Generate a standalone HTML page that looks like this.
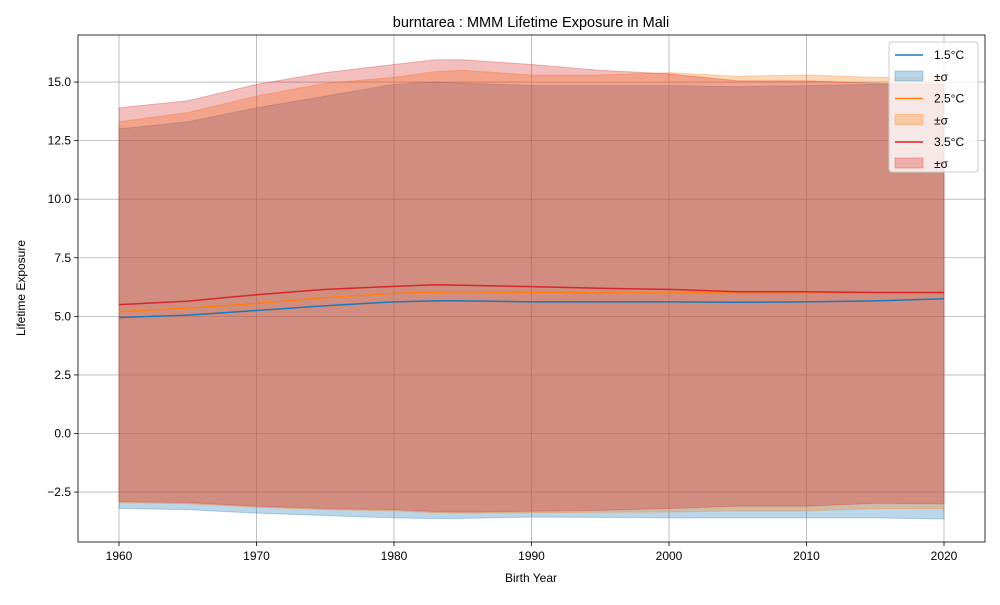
<!DOCTYPE html>
<html><head><meta charset="utf-8"><style>body{margin:0;background:#fff}svg{font-family:"Liberation Sans","DejaVu Sans",sans-serif}</style></head>
<body>
<svg id="c" width="1000" height="600" xmlns="http://www.w3.org/2000/svg"></svg>
<script>
const years=[1960,1965,1970,1975,1980,1983,1985,1990,1995,2000,2005,2010,2015,2020];
const mean15=[4.95,5.05,5.25,5.45,5.62,5.66,5.66,5.62,5.62,5.62,5.6,5.62,5.66,5.75];
const up15=[13.0,13.3,13.9,14.4,14.9,15.0,14.95,14.85,14.85,14.85,14.8,14.85,14.9,14.9];
const lo15=[-3.2,-3.25,-3.4,-3.5,-3.6,-3.63,-3.62,-3.57,-3.58,-3.6,-3.6,-3.6,-3.6,-3.65];
const mean25=[5.2,5.35,5.55,5.8,5.98,6.03,6.05,6.02,6.0,6.0,6.0,6.0,6.0,6.0];
const up25=[13.3,13.7,14.4,14.95,15.2,15.45,15.5,15.3,15.3,15.4,15.25,15.3,15.2,15.2];
const lo25=[-2.95,-3.0,-3.15,-3.25,-3.3,-3.38,-3.4,-3.38,-3.36,-3.35,-3.3,-3.3,-3.2,-3.2];
const mean35=[5.5,5.65,5.92,6.15,6.28,6.35,6.33,6.27,6.2,6.15,6.05,6.05,6.02,6.02];
const up35=[13.9,14.2,14.9,15.4,15.75,15.95,15.95,15.75,15.5,15.35,15.05,15.05,14.95,14.9];
const lo35=[-2.9,-2.95,-3.1,-3.2,-3.25,-3.33,-3.35,-3.32,-3.28,-3.2,-3.1,-3.1,-2.98,-3.0];
const xTicks=[1960,1970,1980,1990,2000,2010,2020];
const yTicks=[-2.5,0,2.5,5,7.5,10,12.5,15];
const L=78,R=985,T=35,B=542;
const X=v=>119+(v-1960)*13.75, Y=v=>433.5-v*23.43;
const svg=document.getElementById('c');const NS='http://www.w3.org/2000/svg';
function mk(t,a,txt){const e=document.createElementNS(NS,t);for(const k in a)e.setAttribute(k,a[k]);if(txt!=null)e.textContent=txt;svg.appendChild(e);return e;}
mk('rect',{x:0,y:0,width:1000,height:600,fill:'#fff'});
xTicks.forEach(t=>{const l=mk('line',{x1:X(t),x2:X(t),y1:T,y2:B,stroke:'#b0b0b0','stroke-width':0.8});


mk('line',{x1:X(t),x2:X(t),y1:B,y2:B+4,stroke:'#000','stroke-width':0.8});
const tx=mk('text',{x:X(t),y:B+18,'text-anchor':'middle','font-size':12},t);

});
yTicks.forEach(t=>{const l=mk('line',{x1:L,x2:R,y1:Y(t),y2:Y(t),stroke:'#b0b0b0','stroke-width':0.8});


mk('line',{x1:L-4,x2:L,y1:Y(t),y2:Y(t),stroke:'#000','stroke-width':0.8});
const tx=mk('text',{x:L-7,y:Y(t)+4,'text-anchor':'end','font-size':12},t.toFixed(1).replace('-','−'));

});
const series=[['1.5',mean15,up15,lo15,'#1f77b4'],['2.5',mean25,up25,lo25,'#ff7f0e'],['3.5',mean35,up35,lo35,'#d62728']];
series.forEach(([n,m,u,lo,c])=>{
 const top=years.map((y,i)=>X(y)+','+Y(u[i])).join(' ');
 const bot=years.map((y,i)=>X(y)+','+Y(lo[i])).reverse().join(' ');
 const b=mk('polygon',{points:top+' '+bot,fill:c,'fill-opacity':0.3,stroke:c,'stroke-opacity':0.3});
 
 
});
series.forEach(([n,m,u,lo,c])=>{
 const p=mk('polyline',{points:years.map((y,i)=>X(y)+','+Y(m[i])).join(' '),fill:'none',stroke:c,'stroke-width':1.5});
 
 
});
mk('rect',{x:L,y:T,width:R-L,height:B-T,fill:'none',stroke:'#000','stroke-width':0.8});
const ti=mk('text',{x:531,y:27,'text-anchor':'middle','font-size':14.5},'burntarea : MMM Lifetime Exposure in Mali');

const xl=mk('text',{x:531,y:582,'text-anchor':'middle','font-size':12},'Birth Year');

const yl=mk('text',{x:25,y:288,'text-anchor':'middle','font-size':12,transform:'rotate(-90 25 288)'},'Lifetime Exposure');

const lg=mk('rect',{x:889,y:42,width:89,height:130,rx:3,fill:'#fff','fill-opacity':0.8,stroke:'#ccc'});

series.forEach(([n,m,u,lo,c],i)=>{
 const y0=55+i*43.5;
 const a=mk('line',{x1:895,x2:923,y1:y0,y2:y0,stroke:c,'stroke-width':1.5});
 
 mk('text',{x:934,y:y0+4,'font-size':12},n+'°C');
 const s=mk('rect',{x:895,y:y0+16,width:28,height:10,fill:c,'fill-opacity':0.3,stroke:c,'stroke-opacity':0.3});
 
 mk('text',{x:934,y:y0+26,'font-size':12},'±σ');
});
</script>
</body></html>
